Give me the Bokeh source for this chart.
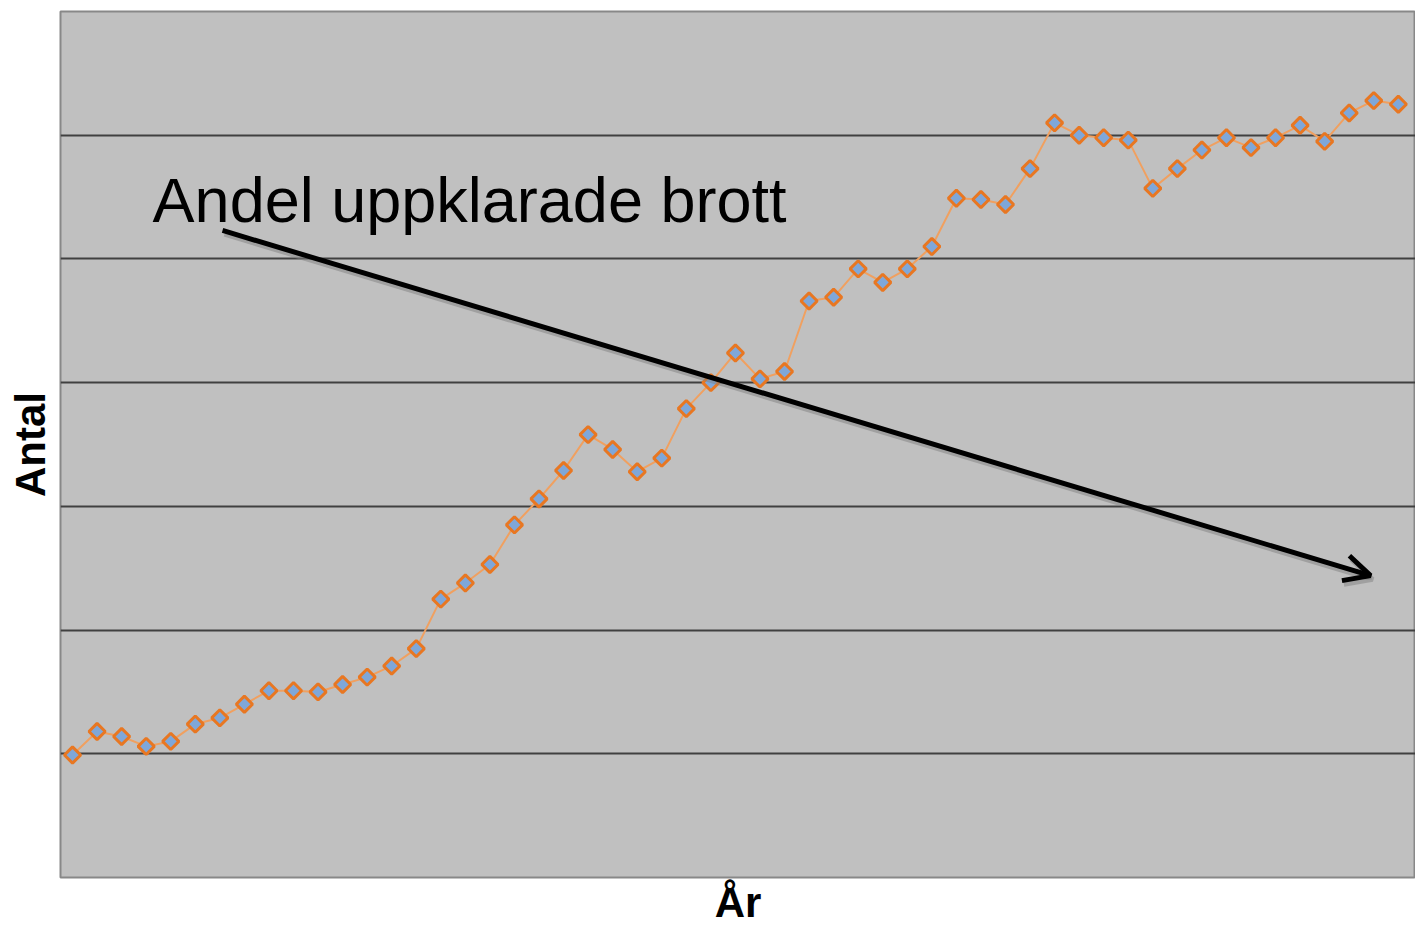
import math
from bokeh.plotting import figure
from bokeh.models import Arrow, OpenHead, Label, FixedTicker, Range1d
from bokeh.embed import file_html
from bokeh.resources import INLINE

# Data (values in gridline units)
years = list(range(55))
andel = [0.99, 1.18, 1.14, 1.06, 1.10, 1.24, 1.29, 1.40, 1.51, 1.51,
         1.50, 1.56, 1.62, 1.71, 1.85, 2.25, 2.38, 2.53, 2.85, 3.06,
         3.29, 3.58, 3.46, 3.28, 3.39, 3.79, 4.00, 4.24, 4.03, 4.09,
         4.66, 4.69, 4.92, 4.81, 4.92, 5.10, 5.49, 5.48, 5.44, 5.73,
         6.10, 6.00, 5.98, 5.96, 5.57, 5.73, 5.88, 5.98, 5.90, 5.98,
         6.08, 5.95, 6.18, 6.28, 6.25]
grid_ticks = [1, 2, 3, 4, 5, 6]

annotation_text = "Andel uppklarade brott"
x_title = "År"
y_title = "Antal"

p = figure(width=1415, height=928, output_backend="svg", toolbar_location=None,
           x_range=Range1d(-0.49, 54.7), y_range=Range1d(0, 7),
           min_border_left=60, min_border_right=0, min_border_top=11, min_border_bottom=51)

p.background_fill_color = "#c0c0c0"
p.border_fill_color = "white"
p.outline_line_color = "#888888"
p.outline_line_width = 2

p.xgrid.visible = False
p.ygrid.ticker = FixedTicker(ticks=grid_ticks)
p.ygrid.grid_line_color = "#404040"
p.ygrid.grid_line_width = 2

for ax in (p.xaxis[0], p.yaxis[0]):
    ax.major_label_text_font_size = "0px"
    ax.major_tick_line_color = None
    ax.minor_tick_line_color = None
    ax.major_tick_out = 0
    ax.minor_tick_out = 0
    ax.axis_line_color = None
    ax.axis_label_text_font = "Liberation Sans"
    ax.axis_label_text_font_style = "bold"
    ax.axis_label_text_font_size = "42px"
    ax.axis_label_text_color = "black"
    ax.major_label_standoff = 0
p.xaxis.axis_label = x_title
p.yaxis.axis_label = y_title
p.xaxis.axis_label_standoff = 1
p.xaxis.axis_label_text_baseline = "middle"
p.yaxis.axis_label_standoff = 7
p.yaxis.ticker = FixedTicker(ticks=grid_ticks)
p.xaxis.ticker = FixedTicker(ticks=[])

p.line(years, andel, line_color="#f0a060", line_width=2)
p.scatter(years, andel, marker="square", angle=math.pi / 4, size=11.5,
          fill_color="#7fa7d9", line_color="#e87722", line_width=3)

# annotation arrow with shadow
p.add_layout(Arrow(end=OpenHead(size=26, line_width=5, line_color="#808080", line_alpha=0.5),
                   x_start=6.19, y_start=5.20, x_end=52.95, y_end=2.41,
                   line_width=5, line_color="#808080", line_alpha=0.5))
p.add_layout(Arrow(end=OpenHead(size=26, line_width=5, line_color="black"),
                   x_start=6.11, y_start=5.23, x_end=52.87, y_end=2.44,
                   line_width=5, line_color="black"))

p.add_layout(Label(x=3.26, y=5.48, text=annotation_text, text_font="Liberation Sans",
                   text_font_size="63px", text_color="black", text_baseline="alphabetic"))

open("out.html", "w").write(file_html(p, INLINE))
